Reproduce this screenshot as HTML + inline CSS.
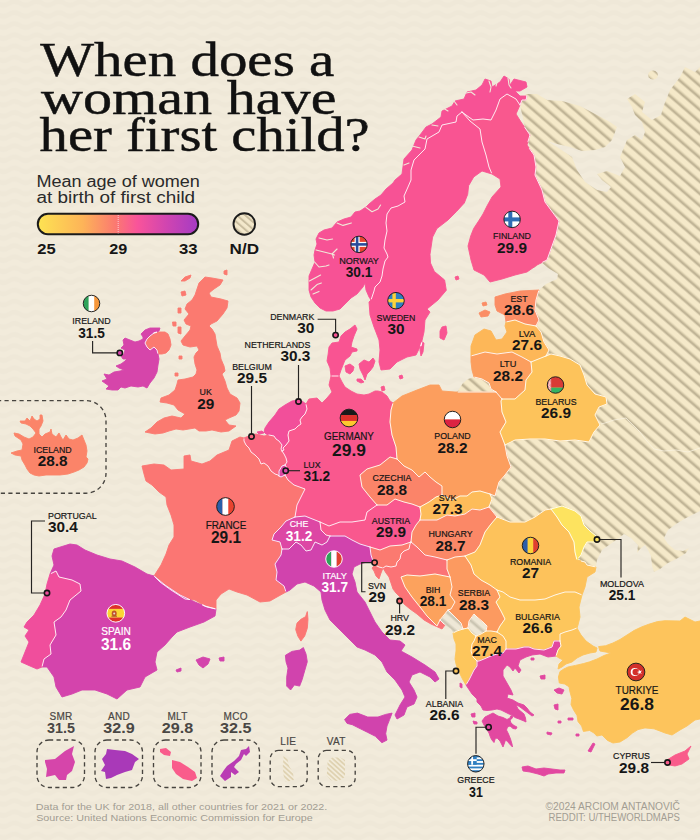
<!DOCTYPE html>
<html><head><meta charset="utf-8"><title>When does a woman have her first child?</title>
<style>
html,body{margin:0;padding:0;background:#efe8d8;}
body{width:700px;height:840px;overflow:hidden;position:relative;font-family:"Liberation Sans",sans-serif;}
svg{position:absolute;left:0;top:0;display:block}
text{font-family:"Liberation Sans",sans-serif;}
.ttl text{font-family:"Liberation Serif",serif;}
.nm{font-size:9.15px;fill:#161616;text-anchor:middle;stroke:#161616;stroke-width:.2px}
.vl{font-size:14.3px;font-weight:700;fill:#161616;text-anchor:middle}
.nm.b{font-size:10.5px}.vl.b{font-size:16.2px}
.nm.m{font-size:10px;letter-spacing:.3px}.vl.m{font-size:15px}
.w{fill:#fff}.nm.w{stroke:#fff}
.g{fill:#4a4744}.nm.g{stroke:#4a4744}
.ld{fill:none;stroke:#262422;stroke-width:1.15}
.dot{stroke:#161616;stroke-width:1.6}
.bx{fill:none;stroke:#47443f;stroke-width:1.35;stroke-dasharray:4.2 3.3}
.ft{font-size:9.6px;fill:#a29d93}
.ttl{font-family:"Liberation Serif",serif;font-size:49px;fill:#111;stroke:#111;stroke-width:.45px}
.sub{font-size:16px;fill:#2a2a2a}
.lg{font-size:14.2px;font-weight:700;fill:#161616}
</style></head><body>
<svg width="700" height="840" viewBox="0 0 700 840">
<defs>
<pattern id="wv" width="22.2" height="11.1" patternUnits="userSpaceOnUse" patternTransform="translate(9.1 2.9)">
<path transform="scale(1.0091 1.0091)" d="M0 3 Q5.5 -.6 11 3 T22 3 V9 Q16.5 12.6 11 9 T0 9Z" fill="#f4eddd" opacity=".6"/>
</pattern>
<linearGradient id="hs" x1="0" y1="0" x2="0" y2="1">
<stop offset="0" stop-color="#f5e9c9"/><stop offset=".5" stop-color="#f5e9c9"/><stop offset=".66" stop-color="#d8ccab"/><stop offset=".8" stop-color="#b6aa8d"/><stop offset=".9" stop-color="#c9bd9e"/><stop offset="1" stop-color="#f5e9c9"/>
</linearGradient>
<pattern id="ht" width="20" height="9.08" patternUnits="userSpaceOnUse" patternTransform="translate(0 0) rotate(40.8)">
<rect width="20" height="9.08" fill="url(#hs)"/>
</pattern>
<linearGradient id="hs2" x1="0" y1="0" x2="0" y2="1">
<stop offset="0" stop-color="#eee7d6"/><stop offset=".45" stop-color="#eee7d6"/><stop offset=".62" stop-color="#d9d3c1"/><stop offset=".78" stop-color="#c4beac"/><stop offset=".9" stop-color="#d9d3c1"/><stop offset="1" stop-color="#eee7d6"/>
</linearGradient>
<pattern id="ht2" width="20" height="9.08" patternUnits="userSpaceOnUse" patternTransform="translate(2 3) rotate(40.8)">
<rect width="20" height="9.08" fill="url(#hs2)"/>
</pattern>
<pattern id="ht4" width="20" height="5.4" patternUnits="userSpaceOnUse" patternTransform="translate(1 1) rotate(40.8)">
<rect width="20" height="5.4" fill="#f3e8cb"/><rect y="1.6" width="20" height="2" fill="#c9bd9f"/>
</pattern>
<pattern id="ht3" width="20" height="3.5" patternUnits="userSpaceOnUse" patternTransform="rotate(42)">
<rect width="20" height="3.5" fill="#f2ebd9"/><rect y="1.1" width="20" height="1.25" fill="#d8c8a2"/>
</pattern>
<linearGradient id="lgd" x1="0" y1="0" x2="1" y2="0">
<stop offset="0" stop-color="#fde352"/><stop offset=".28" stop-color="#fdb458"/><stop offset=".48" stop-color="#fb7a70"/><stop offset=".62" stop-color="#f9549a"/><stop offset=".8" stop-color="#d145b0"/><stop offset="1" stop-color="#a53bc4"/>
</linearGradient>
</defs>
<rect width="700" height="840" fill="#efe8d8"/>
<rect width="700" height="840" fill="url(#wv)"/>

<path d="M530 150 L520 105 L522 100 L526 97 L525 94 L537 94 L547 100 L562 101 L580 106 L597 115 L610 122 L617 127 L612 140 L605 147 L595 150 L582 151 L570 147 L557 144 L547 141 L557 147 L572 157 L577 170 L585 182 L597 190 L607 192 L611 187 L602 180 L597 174 L607 171 L620 176 L625 167 L620 157 L627 140 L635 135 L642 140 L645 132 L642 122 L635 115 L632 107 L627 99 L635 94 L645 102 L642 112 L652 120 L661 115 L664 105 L670 90 L680 77 L685 67 L695 72 L700 67 L700 511 L686 518 L676 524 L668 530 L664 538 L668 544 L675 550 L683 551 L689 548 L686 553 L678 558 L668 563 L660 569 L654 572 L652 566 L651 556 L648 550 L645 545 L640 549 L637 553 L638 545 L631 538 L624 534 L619 538 L609 545 L602 550 L597 560 L596 567 L587 565 L560 545 L485 525 L485 440 L540 400 L535 300 L539 290 L546 284 L557 279 L558 274 L548 268 L541 262 L537 266 L530 270Z" fill="url(#ht)"/>
<path d="M457 392 L463 383 L468 379 L474 377 L482 379 L489 383 L491 389 L496 392Z" fill="url(#ht)"/>
<path d="M440 620 L448 610 L454 616 L461 623 L463 629 L457 631 L453 633 L451 629 L445 625Z" fill="url(#ht2)"/>
<path d="M469 621 L474 614 L477 617 L483 622 L487 626 L486 631 L481 634 L476 636 L472 633 L468 628Z" fill="url(#ht2)"/>
<path d="M658 75 L657.3 77.3 L655.5 79 L653 79.6 L650.5 79 L648.7 77.3 L648 75 L648.7 72.7 L650.5 71 L653 70.4 L655.5 71 L657.3 72.7Z" fill="url(#ht)"/>
<path d="M601 424 L605 423 L614 420 L626 418 L632 424 L640 432 L646 440 L654 449 L664 451 L676 450 L688 452 L700 448" fill="none" stroke="#faf3e2" stroke-width="1" opacity=".75" stroke-linejoin="round"/>
<g stroke-linejoin="round" stroke-width=".9">
<path d="M395 180 L393 183 L386 189 L381 195 L375 199 L369 204 L366 207 L360 211 L355 212 L351 217 L344 219 L337 222 L332 228 L324 230 L319 233 L316 239 L317 244 L315 250 L314 255 L315 262 L312 269 L309 276 L309 283 L309 290 L311 297 L315 303 L320 308 L326 311 L333 311 L340 309 L346 303 L351 298 L357 294 L363 287 L365 283 L366 290 L369 297 L371 300 L374 291 L375 287 L380 282 L382 276 L383 269 L385 261 L388 257 L387 254 L384 248 L385 240 L387 231 L386 223 L387 214 L391 208 L398 206 L405 202 L404 196 L408 187 L411 180 L411 170 L414 160 L425 149 L427 139 L439 132 L442 125 L456 122 L457 116 L462 112 L466 115 L473 120 L483 119 L491 120 L496 110 L500 99 L507 94 L516 99 L520 105 L522 100 L526 100 L527 96 L520 96 L515 91 L520 91 L527 87 L526 82 L514 79 L510 85 L509 79 L504 76 L500 82 L492 87 L491 81 L485 79 L482 85 L476 90 L467 92 L464 99 L455 101 L452 106 L442 111 L441 117 L432 124 L426 127 L420 135 L416 140 L412 150 L404 159 L402 174Z" fill="#f75295" stroke="#f75295"/>
<path d="M462 112 L457 116 L456 122 L442 125 L439 132 L427 139 L425 149 L414 160 L411 170 L411 180 L408 187 L404 196 L405 202 L398 206 L391 208 L387 214 L386 223 L387 231 L385 240 L384 248 L387 254 L388 257 L385 261 L383 269 L382 276 L380 282 L375 287 L374 291 L371 300 L369 302 L370 315 L374 327 L379 340 L380 350 L379 362 L381 370 L390 369 L397 362 L407 357 L416 355 L421 345 L424 332 L425 320 L430 312 L427 309 L438 300 L446.3 290.3 L444.6 280 L434.3 271.4 L430.5 263 L430 254.3 L432.6 237.1 L436.9 228.6 L448 220 L456.6 211.4 L464.3 203 L467.7 194.3 L468.6 185.7 L473.7 177 L482 171 L492 174 L489 167 L486 155 L482 142 L480 129 L470 121Z" fill="#f95492" stroke="#f95492"/>
<path d="M462 112 L470 121 L480 129 L482 142 L486 155 L489 167 L492 174 L500 179 L501 187 L492 197 L487 206 L483 214 L478.6 221 L473.6 228.6 L470.7 236 L468 246 L471 260 L474 270 L484 275 L490 282 L502 279 L515 275 L527 272 L537 265 L547 260 L556 235 L559 221 L545 202 L542 190 L535 175 L536 167 L534 155 L527 145 L530 135 L521 122 L516 114 L520 105 L516 99 L507 94 L500 99 L496 110 L491 120 L483 119 L473 120 L466 115Z" fill="#f9588e" stroke="#f9588e"/>
<path d="M442 327 L446 326 L447 333 L444 340 L440 338 L440 331Z" fill="#f95492" stroke="#f95492"/>
<path d="M422 342 L424 343 L423 352 L421 356 L420 350Z" fill="#f95492" stroke="#f95492"/>
<path d="M355 325 L357 329 L354 336 L352 342 L351 347 L357 349 L357 351 L352 352 L350 356 L345 360 L343 365 L341 370 L339 376 L331 376 L330 368 L327 361 L328 355 L329 347 L332 343 L339 342 L341 336 L345 332 L350 329Z" fill="#f95492" stroke="#f95492"/>
<path d="M345 366 L350 364 L354 367 L353 371 L350 374 L346 372Z" fill="#f95492" stroke="#f95492"/>
<path d="M359 364 L364 360 L369 362 L373 358 L375 361 L373 367 L370 371 L367 374 L365 380 L363 375 L360 369Z" fill="#f95492" stroke="#f95492"/>
<path d="M357 379 L361 379 L364 382 L361 383 L357 381Z" fill="#f95492" stroke="#f95492"/>
<path d="M205 277 L212 278 L223 280 L220 285 L214 289 L209 293 L211 297 L221 299 L228 301 L227 308 L223 314 L217 321 L211 324 L209 326 L212 329 L215 334 L216 340 L217 346 L220 353 L221 359 L224 366 L225 371 L222 374 L225 381 L227 388 L230 394 L237 398 L240 403 L239 411 L236 415 L229 418 L225 420 L229 425 L236 426 L229 431 L221 432 L212 430 L206 431 L199 431 L195 428 L189 429 L183 430 L176 429 L169 431 L163 433 L155 434 L145 432 L151 428 L157 422 L164 418 L172 416 L181 418 L185 414 L178 410 L174 405 L167 403 L160 402 L161 398 L169 395 L175 390 L177 384 L178 380 L185 379 L193 377 L196 374 L197 370 L195 364 L194 357 L196 353 L199 350 L197 346 L190 347 L183 345 L181 341 L185 336 L190 330 L191 326 L186 324 L184 320 L189 314 L185 309 L187 304 L192 300 L195 295 L197 289 L199 283Z" fill="#fb7a70" stroke="#fb7a70"/>
<path d="M147 339 L150 336 L154 333 L159 332 L165 332 L168 334 L170 339 L171 345 L169 350 L166 353 L162 354 L158 354 L157 350 L154 347 L150 350 L147 347 L145 343Z" fill="#fb7a70" stroke="#fb7a70"/>
<path d="M181 281 L185 277 L191 275 L190 278 L185 281Z" fill="#fb7a70" stroke="#fb7a70"/>
<path d="M181 292 L185 291 L186 295 L182 296Z" fill="#fb7a70" stroke="#fb7a70"/>
<path d="M178 308 L181 308 L181 313 L178 313Z" fill="#fb7a70" stroke="#fb7a70"/>
<path d="M179 356 L182 356 L182 359 L179 359Z" fill="#fb7a70" stroke="#fb7a70"/>
<path d="M224 271 L227 270 L227 275 L224 274Z" fill="#fb7a70" stroke="#fb7a70"/>
<path d="M141 334 L145 330 L150 328 L156 328 L160 328 L159 331 L154 333 L150 336 L147 339 L145 343 L147 347 L150 350 L154 347 L157 350 L158 354 L159 359 L158 365 L157 372 L154 378 L150 383 L147 388 L143 386 L138 387 L131 386 L125 388 L121 387 L118 390 L112 390 L106 389 L109 386 L102 381 L107 379 L104 374 L109 375 L114 372 L120 371 L124 370 L119 368 L116 366 L121 364 L125 361 L127 359 L123 359 L121 356 L124 354 L125 350 L121 348 L124 345 L123 340 L125 338 L130 340 L135 342 L139 341 L143 339 L143 337Z" fill="#d645aa" stroke="#d645aa"/>
<path d="M11 453 L17 451 L22 450 L23 444 L21 440 L15 436 L14 433 L19 434 L24 437 L29 439 L33 437 L36 433 L33 429 L30 426 L26 424 L21 423 L20 421 L25 421 L27 418 L30 421 L32 416 L34 419 L37 421 L40 419 L40 415 L42 415 L43 421 L41 426 L39 429 L39 434 L42 437 L45 434 L50 432 L51 429 L52 434 L56 437 L59 433 L61 437 L63 440 L66 435 L69 439 L73 440 L78 438 L82 435 L84 440 L86 445 L87 451 L86 457 L88 459 L87 463 L84 467 L79 470 L74 472 L68 474 L60 475 L53 475 L46 475 L39 476 L34 475 L30 473 L27 469 L25 465 L22 460 L21 456 L15 455Z" fill="#fb8469" stroke="#fb8469"/>
<path d="M244 438 L244 441 L246 445 L249 448 L251 452 L255 455 L259 459 L261 464 L264 463 L268 466 L271 471 L275 474 L278 475 L279 476 L281 477 L285 475 L288 480 L294 485 L305 489 L302 495 L297 505 L295 517 L286 521 L281 527 L274 534 L272 540 L280 542 L282 549 L281 555 L275 564 L277 572 L276 580 L284 586 L286 592 L277 597 L270 601 L260 602 L247 595 L237 592 L229 589 L221 594 L216 600 L216 609 L205 606 L195 600 L185 599 L171 590 L160 582 L154 576 L161 565 L166 554 L169 545 L174 537 L174 525 L171 515 L167 505 L166 497 L159 492 L152 485 L146 481 L144 474 L142 466 L154 464 L164 465 L171 470 L184 469 L184 456 L190 455 L191 461 L202 464 L210 461 L217 455 L229 450 L232 441 L240 437Z" fill="#fb7673" stroke="#fb7673"/>
<path d="M307.3 611.6 L308 619.3 L307.3 628.3 L304.7 636 L300.9 641.1 L297.8 636 L295.7 629.6 L297 623.1 L300.9 619.3 L305.5 616.7Z" fill="#fb7673" stroke="#fb7673"/>
<path d="M244 438 L251 435 L256 434 L264 436 L269 435 L274 436 L276 439 L279 441 L282 445 L281 449 L282 451 L284 454 L286 458 L287 462 L285 465 L282 466 L279 471 L279 476 L278 475 L275 474 L271 471 L268 466 L264 463 L261 464 L259 459 L255 455 L251 452 L249 448 L246 445 L244 441Z" fill="#fa6880" stroke="#fa6880"/>
<path d="M282 466 L285 465 L287 468 L288 472 L285 475 L281 477 L279 476 L279 471Z" fill="#dd47a4" stroke="#dd47a4"/>
<path d="M265 428 L269 422 L275 415 L279 409 L285 405 L292 401 L298 400 L302 401 L306 404 L307 409 L305 414 L302 417 L300 420 L301 424 L298 426 L295 429 L289 431 L288 435 L289 441 L286 445 L283 448 L284 450 L282 451 L281 449 L282 445 L279 441 L276 439 L274 436 L269 435 L266 434 L264 432Z" fill="#f24f9a" stroke="#f24f9a"/>
<path d="M306 404 L307 409 L305 414 L302 417 L300 420 L301 424 L298 426 L295 429 L289 431 L288 435 L289 441 L286 445 L283 448 L284 450 L282 451 L284 454 L286 458 L287 462 L285 465 L287 468 L288 472 L285 475 L288 480 L294 485 L305 489 L302 495 L297 505 L295 517 L305 516 L315 520 L320 522 L329 526 L340 522 L352 522 L365 520 L367 512 L377 505 L370 497 L362 487 L360 475 L367 469 L380 465 L390 457 L397 459 L396 447 L392 435 L390 422 L391 410 L393 403 L390 401 L387 396 L382 392 L378 391 L375 391 L369 394 L364 395 L357 394 L351 391 L345 387 L342 382 L339 376 L331 376 L329 385 L332 392 L327 398 L322 403 L317 398 L309 399Z" fill="#f9588e" stroke="#f9588e"/>
<path d="M295 517 L305 516 L315 520 L320 522 L321 530 L326 535 L330 536 L327 542 L322 545 L315 542 L311 550 L306 551 L301 545 L296 542 L289 549 L282 549 L280 542 L272 540 L274 534 L281 527 L286 521Z" fill="#dd47a4" stroke="#dd47a4"/>
<path d="M320 522 L329 526 L340 522 L352 522 L365 520 L367 512 L377 505 L387 505 L395 499 L404 502 L412 504 L420 507 L421 514 L420 520 L416 525 L412 532 L411 542 L402 545 L390 546 L380 550 L370 547 L360 544 L352 540 L345 536 L335 536 L330 536 L326 535 L321 530Z" fill="#f9588e" stroke="#f9588e"/>
<path d="M360 475 L367 469 L380 465 L390 457 L397 459 L404 466 L412 470 L419 477 L425 472 L430 477 L436 482 L442 486 L442 495 L436 497 L429 502 L420 507 L412 504 L404 502 L395 499 L387 505 L377 505 L370 497 L362 487Z" fill="#fb8469" stroke="#fb8469"/>
<path d="M393 403 L402 396 L417 390 L430 385 L439 385 L442 391 L455 392 L490 392 L496 392 L502 399 L501 401 L502 412 L506 422 L500 432 L505 445 L507 456 L511 467 L505 475 L499 482 L495 496 L490 494 L480 491 L472 492 L467 496 L460 496 L452 500 L442 495 L442 486 L436 482 L430 477 L425 472 L419 477 L412 470 L404 466 L397 459 L396 447 L392 435 L390 422 L391 410Z" fill="#fc9e5e" stroke="#fc9e5e"/>
<path d="M442 495 L452 500 L460 496 L467 496 L472 492 L480 491 L490 494 L492 499 L489 507 L480 510 L472 509 L465 514 L455 516 L447 515 L437 520 L427 520 L420 520 L421 514 L420 507 L429 502 L436 497Z" fill="#fdbc5a" stroke="#fdbc5a"/>
<path d="M420 520 L427 520 L437 520 L447 515 L455 516 L465 514 L472 509 L480 510 L489 507 L497 517 L491 524 L485 532 L480 545 L475 552 L465 556 L455 557 L447 560 L435 557 L425 555 L417 547 L411 542 L412 532 L416 525Z" fill="#fb8867" stroke="#fb8867"/>
<path d="M370 547 L380 550 L390 546 L402 545 L411 542 L410 544 L409 549 L404 551 L401 554 L400 559 L397 562 L396 566 L391 567 L386 566 L383 568 L379 567 L375 565 L373 561 L371 555Z" fill="#fb7a70" stroke="#fb7a70"/>
<path d="M383 568 L386 566 L391 567 L396 566 L397 562 L400 559 L401 554 L404 551 L409 549 L410 544 L411 542 L417 547 L425 555 L435 557 L447 560 L447 569 L450 577 L445 576 L435 574 L420 576 L407 575 L401 577 L405 587 L412 597 L420 607 L427 616 L437 626 L440 620 L445 625 L442 629 L431 624 L424 620 L417 614 L410 609 L404 604 L400 597 L396 593 L393 589 L391 583 L389 577 L386 573Z" fill="#fb7376" stroke="#fb7376"/>
<path d="M401 577 L407 575 L420 576 L435 574 L445 576 L450 577 L452 587 L450 595 L455 602 L451 609 L448 610 L440 620 L437 626 L427 616 L420 607 L412 597 L405 587Z" fill="#fca25d" stroke="#fca25d"/>
<path d="M447 560 L455 557 L465 556 L471 565 L474 574 L481 580 L490 585 L497 590 L500 597 L496 602 L501 611 L505 619 L500 626 L497 632 L491 631 L486 631 L487 626 L483 622 L477 617 L474 614 L469 621 L468 628 L463 629 L461 623 L454 616 L448 610 L451 609 L455 602 L450 595 L452 587 L450 577 L447 569Z" fill="#fc9a60" stroke="#fc9a60"/>
<path d="M453 633 L457 631 L463 629 L468 628 L472 633 L476 636 L474 641 L472 644 L471 651 L473 657 L477 661 L477 666 L474 670 L471 676 L469 680 L466 685 L463 680 L461 676 L458 670 L456 664 L455 659 L456 651 L456 644 L454 639Z" fill="#fdc65c" stroke="#fdc65c"/>
<path d="M472 644 L474 641 L476 636 L481 634 L486 631 L491 631 L497 632 L503 636 L506 641 L506 649 L503 653 L497 654 L491 656 L484 659 L479 661 L477 661 L473 657 L471 651Z" fill="#fdbb59" stroke="#fdbb59"/>
<path d="M497 590 L503 592 L510 597 L520 600 L535 600 L545 599 L555 595 L565 592 L575 592 L582 595 L579 607 L580 617 L578 625 L577 628 L572 630 L565 632 L560 634 L560 641 L554 641 L552 647 L544 650 L534 649 L529 647 L524 647 L516 649 L506 649 L506 641 L503 636 L497 632 L500 626 L505 619 L501 611 L496 602 L500 597Z" fill="#fdc65c" stroke="#fdc65c"/>
<path d="M497 517 L510 522 L525 522 L535 517 L545 510 L551 509 L557 517 L562 525 L569 532 L574 542 L575 552 L577 560 L585 562 L587 565 L596 567 L595 572 L587 577 L585 587 L582 595 L575 592 L565 592 L555 595 L545 599 L535 600 L520 600 L510 597 L503 592 L497 590 L490 585 L481 580 L474 574 L471 565 L465 556 L475 552 L480 545 L485 532 L491 524Z" fill="#fdc25b" stroke="#fdc25b"/>
<path d="M551 509 L562 506 L575 511 L581 516 L584 525 L590 531 L596 536 L595 542 L587 542 L584 547 L581 555 L577 560 L575 552 L574 542 L569 532 L562 525 L557 517Z" fill="#fde35f" stroke="#fde35f"/>
<path d="M495 297 L505 294 L520 291 L539 290 L536 300 L535 310 L539 320 L536 326 L525 324 L515 320 L506 322 L505 315 L497 311 L495 305Z" fill="#fb8d65" stroke="#fb8d65"/>
<path d="M479 313 L485 310 L490 312 L488 316 L481 317Z" fill="#fb8d65" stroke="#fb8d65"/>
<path d="M482 303 L486 302 L487 305 L483 306Z" fill="#fb8d65" stroke="#fb8d65"/>
<path d="M506 322 L515 320 L525 324 L536 326 L541 332 L544 342 L549 350 L546 356 L536 360 L531 362 L522 357 L512 352 L497 354 L485 352 L471 356 L471 346 L475 335 L484 329 L491 331 L496 340 L502 339 L507 332 L505 326Z" fill="#fdb758" stroke="#fdb758"/>
<path d="M471 356 L485 352 L497 354 L512 352 L522 357 L531 362 L532 372 L526 380 L525 390 L515 399 L502 399 L496 392 L491 389 L489 383 L482 379 L474 377 L472 370 L471 362Z" fill="#fc9e5e" stroke="#fc9e5e"/>
<path d="M531 362 L536 360 L546 356 L551 354 L560 356 L570 359 L580 365 L584 375 L587 385 L595 394 L606 397 L607 404 L599 407 L595 415 L600 425 L594 432 L589 442 L575 440 L560 441 L545 439 L530 439 L515 440 L505 445 L500 432 L506 422 L502 412 L501 401 L502 399 L515 399 L525 390 L526 380 L532 372Z" fill="#fdc35b" stroke="#fdc35b"/>
<path d="M54 549 L70 544 L77 545 L85 550 L97 555 L110 559 L122 561 L135 567 L147 574 L154 576 L165 585 L180 595 L195 602 L207 607 L216 609 L215 616 L204 622 L190 627 L177 632 L172 637 L165 645 L157 652 L155 662 L157 670 L145 677 L140 687 L127 690 L117 699 L107 694 L95 690 L82 690 L72 694 L62 697 L56 687 L54 677 L47 667 L42 667 L44 659 L51 654 L50 645 L56 635 L54 622 L61 617 L66 610 L70 600 L81 591 L80 584 L72 580 L59 577 L56 571 L50 574 L54 565 L52 556Z" fill="#d444ac" stroke="#d444ac"/>
<path d="M196 660 L203 657 L210 659 L208 664 L203 668 L199 665Z" fill="#d444ac" stroke="#d444ac"/>
<path d="M219 658 L224 657 L224 661 L220 661Z" fill="#d444ac" stroke="#d444ac"/>
<path d="M176 670 L181 668 L181 671 L177 672Z" fill="#d444ac" stroke="#d444ac"/>
<path d="M50 574 L56 571 L59 577 L72 580 L80 584 L81 591 L70 600 L66 610 L61 617 L54 622 L56 635 L50 645 L51 654 L44 659 L42 667 L37 669 L30 666 L21 662 L25 652 L29 642 L25 636 L29 630 L24 627 L27 622 L34 615 L40 605 L45 594 L47 584Z" fill="#f04e9c" stroke="#f04e9c"/>
<path d="M286 592 L284 586 L276 580 L277 572 L275 564 L281 555 L282 549 L289 549 L296 542 L301 545 L306 551 L311 550 L315 542 L322 545 L327 542 L330 536 L335 536 L345 536 L352 540 L360 544 L370 547 L371 555 L373 561 L374 564 L371 562 L367 562 L360 564 L354 567 L352 574 L355 582 L357 592 L365 602 L370 612 L375 622 L382 632 L390 640 L400 641 L405 645 L401 651 L412 657 L425 665 L435 672 L439 679 L435 682 L430 677 L420 672 L412 675 L409 682 L414 690 L417 697 L414 704 L407 707 L404 715 L397 719 L395 715 L400 705 L405 697 L402 690 L395 680 L387 672 L382 662 L375 655 L365 650 L357 647 L347 637 L337 627 L330 620 L325 610 L322 600 L321 592 L314 586 L305 582 L297 584 L290 590Z" fill="#d143ad" stroke="#d143ad"/>
<path d="M344.6 719.6 L349.7 714.4 L357.4 713.1 L367.7 717 L378 717 L385.7 714.4 L392.1 713.1 L389.6 719.6 L387 726 L385.7 733.7 L387 740.1 L381.9 742.7 L375.4 736.3 L367.7 732.4 L360 728.6 L352.3 724.7 L347.1 723.4Z" fill="#d143ad" stroke="#d143ad"/>
<path d="M285.4 655.3 L291.9 651.4 L299.6 650.1 L303.4 647.6 L306 654 L307.3 661.7 L304.7 670.7 L302.1 679.7 L299.6 686.1 L294.4 684.9 L290.6 690 L286.7 686.1 L286.7 677.1 L288 668.1 L286 661.7Z" fill="#d143ad" stroke="#d143ad"/>
<path d="M466 685 L469 680 L471 676 L474 670 L477 666 L477 661 L479 661 L484 659 L491 656 L497 654 L503 653 L506 649 L516 649 L524 647 L529 647 L534 649 L544 650 L552 647 L554 641 L560 641 L561 646 L558 650 L556 656 L548 657 L540 654 L532 655 L526 657 L520 660 L518 666 L521 670 L519 673 L515 668 L513 671 L510 667 L507 665 L503 670 L503 676 L507 683 L511 690 L513 695 L508 694 L507 698 L513 700 L518 703 L524 705 L527 708 L530 712 L534 715 L532 716 L528 713 L524 710 L520 707 L516 704.5 L518 709 L521 711.5 L524 714 L525.5 718 L526 722 L524 721 L519 719 L515 717.5 L512 715 L509 714 L505 712 L501 710 L497 709 L492 710 L487 710.5 L483 710 L481 706 L477 702 L477 699 L472 694Z" fill="#e248a0" stroke="#e248a0"/>
<path d="M522 767 L528 766 L536 769 L544 768 L552 769 L560 770 L565 770 L564 773 L556 773 L548 774 L544 776 L538 774 L530 772 L523 771Z" fill="#e248a0" stroke="#e248a0"/>
<path d="M588 751 L593 743 L595 744 L591 752Z" fill="#e248a0" stroke="#e248a0"/>
<path d="M554 690 L559 688 L564 690 L562 694 L557 693Z" fill="#e248a0" stroke="#e248a0"/>
<path d="M554 705 L558 704 L558 710 L555 709Z" fill="#e248a0" stroke="#e248a0"/>
<path d="M560 641 L560 634 L565 632 L572 630 L577 628 L581 635 L586 641 L593 646 L597 648 L596 652 L590 653 L583 655 L577 658 L572 662 L566 664 L562 667 L558 669 L559 664 L563 660 L559 658 L556 656 L558 650 L561 646Z" fill="#fdc45c" stroke="#fdc45c"/>
<path d="M598.6 646.6 L605.7 645.7 L612.9 643 L620 639.5 L627 635 L634 630.5 L641.4 627 L648.6 624.3 L657.5 621.6 L665 620.7 L680 621 L685 617 L695 622 L700 621 L700 719 L695 720 L687 726 L680 730 L672 735 L665 733 L661 731.4 L654 728.8 L645 727.9 L638 729.6 L632.5 733 L627 737.7 L620 742 L613 743 L607.5 740.4 L602 735 L596.8 736 L594 733 L589.6 730.5 L583.4 731.4 L581.6 726 L578 721.6 L577 715.4 L573.6 710 L571 704.6 L571.8 698.4 L570 692 L569 686.8 L564.6 684 L559.3 683 L558.4 677 L560 671.6 L563.8 669 L568 667 L575.4 665.4 L583.4 663.6 L589.6 661.8 L597 659 L604 655.5 L611 653 L600 651Z" fill="#fdc45c" stroke="#fdc45c"/>
<path d="M667 760 L675 755 L685 751 L691 746 L687 754 L689 759 L682 764 L675 766 L669 765Z" fill="#f95c8b" stroke="#f95c8b"/>
<path d="M540 676 L545 675 L545 679 L541 679Z" fill="#e248a0" stroke="#e248a0"/>
<path d="M568 718 L573 718 L573 720 L568 720Z" fill="#e248a0" stroke="#e248a0"/>
<path d="M558 721 L561 721 L561 723 L558 723Z" fill="#e248a0" stroke="#e248a0"/>
<path d="M547 732 L552 733 L551 735 L547 734Z" fill="#e248a0" stroke="#e248a0"/>
<path d="M576 734 L579 734 L579 736 L576 736Z" fill="#e248a0" stroke="#e248a0"/>
<path d="M460 683 L462 684 L462 688 L460 687Z" fill="#e248a0" stroke="#e248a0"/>
<path d="M471 714 L475 713 L475 717 L472 717Z" fill="#e248a0" stroke="#e248a0"/>
<path d="M473 721 L477 722 L477 724 L474 724Z" fill="#e248a0" stroke="#e248a0"/>
<path d="M531 658 L534 658 L534 660 L531 660Z" fill="#e248a0" stroke="#e248a0"/>
<path d="M399 376 L402 375 L403 378 L400 379Z" fill="#f95492" stroke="#f95492"/>
<path d="M381 387 L384 386 L385 390 L382 391Z" fill="#f9588e" stroke="#f9588e"/>
<path d="M172.5 322 L176 322 L176 326 L173 326Z" fill="#fb7a70" stroke="#fb7a70"/>
<path d="M178 327 L181 327 L181 334 L178 333Z" fill="#fb7a70" stroke="#fb7a70"/>
<path d="M175 373 L178 373 L178 376 L175 376Z" fill="#fb7a70" stroke="#fb7a70"/>
<path d="M375 565 L379 567 L383 568 L381 573 L379 579 L376 576 L374 571 L372 568Z" fill="#fb7376" stroke="#fb7376"/>
<path d="M455 277 L458 276 L459 279 L456 280Z" fill="#f9588e" stroke="#f9588e"/>
<path d="M257 432 L262 431 L264 433 L259 434Z" fill="#f24f9a" stroke="#f24f9a"/>
<path d="M482 721 L485 717 L490 714.5 L493 713 L498 716 L503 717.5 L507 719.5 L510 718 L511 715.5 L513 716.5 L511.5 719 L510 720 L511 723 L514 725.5 L517 727 L516 729 L513 728.5 L510 726 L507.5 727 L506.5 730 L508.5 734 L510.5 739 L512 744 L512.5 747 L510 744.5 L507.5 741.5 L505.5 740 L504.5 743 L503 747 L501.5 744 L500 741 L497.5 738.5 L495.5 738 L494 742.5 L491.5 739.5 L490 736 L489 733 L486.5 729 L484 725Z" fill="#e248a0" stroke="#e248a0"/>
</g>
<g fill="none" stroke="#fff" stroke-width=".95" stroke-linejoin="round" stroke-linecap="round" opacity=".92">
<path d="M42.2 666.1 L44 659 L51 654 L50 645 L56 635 L54 622 L61 617 L66 610 L70 600 L81 591 L80 584 L72 580 L59 577 L56 571 L51.3 573.4M157.8 353.3 L157 350 L154 347 L150 350 L147 347 L145 343 L147 339 L150 336 L154 333M156.4 332 L154 333M154 333 L156.6 332.5M189.5 599.5 L185 599 L171 590 L160 582 L154.6 576.6M154.7 576.5 L165 585 L180 595 L189.5 599.5M202.6 605.2 L207 607 L215.1 608.8M215.1 608.8 L205 606 L202.8 604.7M244 438.9 L244 441 L246 445 L249 448 L251 452 L255 455 L259 459 L261 464 L264 463 L268 466 L271 471 L275 474 L278 475 L279 476M269 435 L274 436 L276 439 L279 441 L282 445 L281 449 L282 451M279 476 L281 477 L285 475M285 465 L282 466 L279 471 L279 476M282 451 L284 454 L286 458 L287 462 L285 465M306.1 404.7 L307 409 L305 414 L302 417 L300 420 L301 424 L298 426 L295 429 L289 431 L288 435 L289 441 L286 445 L283 448 L284 450 L282 451M330 536 L327 542 L322 545 L315 542 L311 550 L306 551 L301 545 L296 542 L289 549 L282 549M282 549 L281 555 L275 564 L277 572 L276 580 L284 586 L285.7 591.1M295 517 L286 521 L281 527 L274 534 L272 540 L280 542 L282 549M285 465 L287 468 L288 472 L285 475M285 475 L288 480 L294 485 L305 489 L302 495 L297 505 L295 517M295 517 L305 516 L315 520 L320 522M320 522 L329 526 L340 522 L352 522 L365 520 L367 512 L377 505M320 522 L321 530 L326 535 L330 536M370 547 L360 544 L352 540 L345 536 L335 536 L330 536M338.1 376 L331.9 376M411 542 L402 545 L390 546 L380 550 L370 547M373 561 L371 555 L370 547M371.4 298.9 L374 291 L375 287 L380 282 L382 276 L383 269 L385 261 L388 257 L387 254 L384 248 L385 240 L387 231 L386 223 L387 214 L391 208 L398 206 L405 202 L404 196 L408 187 L411 180 L411 170 L414 160 L425 149 L427 139 L439 132 L442 125 L456 122 L457 116 L462 112M382.3 567.8 L379 567 L375.7 565.4M377 505 L387 505 L395 499 L404 502 L412 504 L420 507M377 505 L370 497 L362 487 L360 475 L367 469 L380 465 L390 457 L397 459M411 542 L410 544 L409 549 L404 551 L401 554 L400 559 L397 562 L396 566 L391 567 L386 566 L383.5 567.6M397 459 L396 447 L392 435 L390 422 L391 410 L392.8 403.8M397 459 L404 466 L412 470 L419 477 L425 472 L430 477 L436 482 L442 486 L442 495M447 560 L435 557 L425 555 L417 547 L411 542M420 520 L416 525 L412 532 L411 542M420 507 L421 514 L420 520M442 495 L436 497 L429 502 L420 507M489 507 L480 510 L472 509 L465 514 L455 516 L447 515 L437 520 L427 520 L420 520M420.6 345.8 L421 345 L421.5 342.8M421 345.9 L421.8 342.9M450 577 L445 576 L435 574 L420 576 L407 575 L401 577 L405 587 L412 597 L420 607 L427 616 L436.5 625.5M437.1 625.8 L440 620M440 620 L444.4 624.4M448 610 L440 620M490 494 L480 491 L472 492 L467 496 L460 496 L452 500 L442 495M447 560 L447 569 L450 577M465 556 L455 557 L447 560M463 629 L461 623 L454 616 L448 610M450 577 L452 587 L450 595 L455 602 L451 609 L448 610M463 629 L457 631 L453.8 632.6M458.1 392 L490 392 L496 392M462 112 L466 115 L473 120 L483 119 L491 120 L496 110 L500 99 L507 94 L516 99 L519.9 104.9M491.5 172.9 L489 167 L486 155 L482 142 L480 129 L470 121 L462 112M468 628 L463 629M465 556 L471 565 L474 574 L481 580 L490 585 L497 590M497 517 L491 524 L485 532 L480 545 L475 552 L465 556M477 661 L477 666 L474 670 L471 676 L469 680 L466.5 684.1M476 636 L472 633 L468 628M486 631 L487 626 L483 622 L477 617 L474 614 L469 621 L468 628M531 362 L522 357 L512 352 L497 354 L485 352 L471.9 355.7M496 392 L491 389 L489 383 L482 379 L474.8 377.2M476 636 L474 641 L472 644 L471 651 L473 657 L477 661M486 631 L481 634 L476 636M506 649 L503 653 L497 654 L491 656 L484 659 L479 661 L477 661M497 632 L491 631 L486 631M489 507 L497 517M490 494 L492 499 L489 507M505 445 L507 456 L511 467 L505 475 L499 482 L495 496 L490 494M496 392 L502 399M497 517 L510 522 L525 522 L535 517 L545 510 L551 509M497 590 L503 592 L510 597 L520 600 L535 600 L545 599 L555 595 L565 592 L575 592 L581.2 594.6M497 590 L500 597 L496 602 L501 611 L505 619 L500 626 L497 632M497 632 L503 636 L506 641 L506 649M531 362 L532 372 L526 380 L525 390 L515 399 L502 399M502 399 L501 401 L502 412 L506 422 L500 432 L505 445M546 356 L551 354 L560 356 L570 359 L580 365 L584 375 L587 385 L595 394 L606 397 L607 404 L599 407 L595 415 L600 425 L594 432 L589 442 L575 440 L560 441 L545 439 L530 439 L515 440 L505 445M560 641 L554 641 L552 647 L544 650 L534 649 L529 647 L524 647 L516 649 L506 649M536 326 L525 324 L515 320 L506.9 321.8M520.1 104.9 L522 100 L526 100 L527 96 L526.4 96M528 141.5 L530 135 L524.8 127.4M542.6 262.2 L547 260 L556 235 L559 221 L545 202 L542 190 L535 175 L536 167 L534 155 L529.4 148.5M546 356 L536 360 L531 362M536 326 L541 332 L544 342 L549 350 L546 356M538.7 290.9 L536 300 L535 310 L539 320 L536 326M551 509 L557 517 L562 525 L569 532 L574 542 L575 552 L576.7 558.9M551 509 L562 506 L575 511 L581 516 L584 525 L590 531 L596 536 L595 542 L587 542 L584 547 L581 555 L578.7 557.8M560 641 L561 646 L558 650 L556.3 655.2M576.2 628.3 L572 630 L565 632 L560 634 L560 641M581.4 561.1 L585 562 L587 565 L595.1 566.8"/>
</g>
<g fill="none" stroke="#f0e9d9" stroke-width="1.1" stroke-linecap="round" stroke-linejoin="round">
<path d="M404 165 L409 163"/>
<path d="M412 146 L420 148"/>
<path d="M419 137 L425 139 L426 136"/>
<path d="M432 125 L438 126"/>
<path d="M443 108 L448 111"/>
<path d="M454 101 L457 105"/>
<path d="M466 93 L471 92 L475 95"/>
<path d="M489 81 L491 87 L490 92"/>
<path d="M498 79 L496 86"/>
<path d="M508 78 L509 85 L511 88"/>
<path d="M316 250 L324 252 L332 254 L334.5 255"/>
<path d="M332 254 L337 249"/>
<path d="M332.5 254 L333.5 258"/>
<path d="M314.6 262 L319 267 L326 266 L329 265"/>
<path d="M309.4 281 L315 278 L320.6 275"/>
<path d="M311 290 L317 284.6 L321.4 283"/>
<path d="M313 294 L319 291.4"/>
<path d="M319 238 L327 240 L332.6 239"/>
<path d="M337 223 L343 225.4 L351.4 223"/>
<path d="M366 207.4 L372 211.7 L378 209 L380.6 205"/>
</g>
<path class="bx" d="M-3 400.6 H86 A20 20 0 0 1 106 420.6 V473.2 A20 20 0 0 1 86 493.2 H-3"/>
<rect class="bx" x="37" y="740" width="47.5" height="47.5" rx="12"/>
<rect class="bx" x="95" y="740" width="47.5" height="47.5" rx="12"/>
<rect class="bx" x="153.5" y="740" width="47.5" height="47.5" rx="12"/>
<rect class="bx" x="212" y="740" width="47.5" height="47.5" rx="12"/>
<rect class="bx" x="270.2" y="750.4" width="37" height="36.2" rx="8.5"/>
<rect class="bx" x="318.2" y="750.4" width="37" height="36.2" rx="8.5"/>
<path d="M45 760 L55 759 L65 751 L74 746 L72 754 L75 762 L72 771 L67 775 L66 780 L59 780 L55 775 L46 777 L47 769 L45 762Z" fill="#d645aa"/>
<path d="M107 749 L115 750 L125 751 L132 754 L139 759 L135 762 L132 770 L125 772 L117 775 L111 778 L106 779 L105 772 L101 771 L105 765 L102 759 L106 754Z" fill="#a939b8"/>
<path d="M160 749 L166 748 L171 752 L170 756 L164 755 L160 752Z" fill="#f95c8b"/>
<path d="M172 760 L180 762 L188 767 L195 772 L197 778 L192 781 L183 779 L176 774 L172 768Z" fill="#f95c8b"/>
<path d="M249 746 L250 752 L246 756 L244 754 L241 760 L236 764 L234 767 L239 772 L235 775 L231 772 L231 777 L225 781 L220 776 L224 770 L227 766 L234 761 L239 756 L241 750 L246 749Z" fill="#ba3cb4"/>
<path d="M283.6 756 L287.5 759 L289 766 L293 772.5 L293.8 780 L286 782 L283.6 775.6 L282.8 766Z" fill="url(#ht3)"/>
<path d="M327.6 761.4 L332.3 757.5 L340.2 757.5 L345 760 L345 777 L338.6 781 L330.8 780.3 L326.8 775.6Z" fill="url(#ht3)"/>
<path class="ld" d="M92.6 341 L92.6 352.9 L117.3 352.9"/>
<circle class="dot" cx="119.8" cy="352.9" r="2.65" fill="#d645aa"/>
<path class="ld" d="M317.6 319.2 L335.6 319.2 L335.6 332.6"/>
<circle class="dot" cx="335.6" cy="335.1" r="2.65" fill="#f95492"/>
<path class="ld" d="M298.5 365 L298.5 399"/>
<circle class="dot" cx="298.5" cy="401.5" r="2.65" fill="#f24f9a"/>
<path class="ld" d="M251.5 386 L251.5 434"/>
<circle class="dot" cx="251.5" cy="436.5" r="2.65" fill="#fa6880"/>
<path class="ld" d="M300 470.7 L288.3 470.7"/>
<circle class="dot" cx="285.7" cy="470.7" r="2.65" fill="#dd47a4"/>
<path class="ld" d="M45 521 L31.5 521 L31.5 593 L44.5 593"/>
<circle class="dot" cx="47" cy="593" r="2.65" fill="#f04e9c"/>
<path class="ld" d="M365.5 591.7 L361.7 591.7 L361.7 562.6 L372 562.6"/>
<circle class="dot" cx="374.6" cy="562.6" r="2.65" fill="#fb7a70"/>
<path class="ld" d="M399.6 613.6 L399.6 603.5"/>
<circle class="dot" cx="399.6" cy="601" r="2.65" fill="#fb7376"/>
<path class="ld" d="M445.8 699 L445.8 671 L453.5 671"/>
<circle class="dot" cx="456" cy="671" r="2.65" fill="#fdc65c"/>
<path class="ld" d="M621 577.5 L621 539.5 L599.5 539.5"/>
<circle class="dot" cx="597" cy="539.5" r="2.65" fill="#fde35f"/>
<path class="ld" d="M476 753.8 L476 727.2 L486 727.2"/>
<circle class="dot" cx="488.6" cy="727.2" r="2.65" fill="#e248a0"/>
<path class="ld" d="M651 762.5 L665 762.5"/>
<circle class="dot" cx="667.5" cy="762.5" r="2.65" fill="#f95c8b"/>
<clipPath id="cNOR"><circle cx="359" cy="244.4" r="8.25"/></clipPath><g clip-path="url(#cNOR)"><rect x="350.75" y="236.15" width="16.5" height="16.5" fill="#e8442f"/><rect x="354.6" y="236.15" width="5" height="16.5" fill="#fff"/><rect x="350.75" y="241.9" width="16.5" height="5" fill="#fff"/><rect x="355.8" y="236.15" width="2.6" height="16.5" fill="#2b4b9b"/><rect x="350.75" y="243.1" width="16.5" height="2.6" fill="#2b4b9b"/></g><circle cx="359" cy="244.4" r="8.25" fill="none" stroke="#1b1b1b" stroke-width=".95"/>
<clipPath id="cSWE"><circle cx="396" cy="300.7" r="8.25"/></clipPath><g clip-path="url(#cSWE)"><rect x="387.75" y="292.45" width="16.5" height="16.5" fill="#2f7fc1"/><rect x="392.4" y="292.45" width="3.4" height="16.5" fill="#fdd23a"/><rect x="387.75" y="299" width="16.5" height="3.4" fill="#fdd23a"/></g><circle cx="396" cy="300.7" r="8.25" fill="none" stroke="#1b1b1b" stroke-width=".95"/>
<clipPath id="cFIN"><circle cx="512.1" cy="219.4" r="8.25"/></clipPath><g clip-path="url(#cFIN)"><rect x="503.85" y="211.15" width="16.5" height="16.5" fill="#fff"/><rect x="508.3" y="211.15" width="4" height="16.5" fill="#2f6db5"/><rect x="503.85" y="217.4" width="16.5" height="4" fill="#2f6db5"/></g><circle cx="512.1" cy="219.4" r="8.25" fill="none" stroke="#1b1b1b" stroke-width=".95"/>
<clipPath id="cIRL"><circle cx="91.5" cy="303.5" r="8.25"/></clipPath><g clip-path="url(#cIRL)"><rect x="83.25" y="295.25" width="5.5" height="16.5" fill="#2fa35a"/><rect x="88.75" y="295.25" width="5.5" height="16.5" fill="#fff"/><rect x="94.25" y="295.25" width="5.6" height="16.5" fill="#f7973b"/></g><circle cx="91.5" cy="303.5" r="8.25" fill="none" stroke="#1b1b1b" stroke-width=".95"/>
<clipPath id="cDEU"><circle cx="349" cy="418" r="8.85"/></clipPath><g clip-path="url(#cDEU)"><rect x="340.15" y="409.15" width="17.7" height="5.9" fill="#1a1a1a"/><rect x="340.15" y="415.05" width="17.7" height="5.9" fill="#e0302a"/><rect x="340.15" y="420.95" width="17.7" height="6" fill="#fdc82f"/></g><circle cx="349" cy="418" r="8.85" fill="none" stroke="#1b1b1b" stroke-width=".95"/>
<clipPath id="cPOL"><circle cx="452.5" cy="419.5" r="8.25"/></clipPath><g clip-path="url(#cPOL)"><rect x="444.25" y="411.25" width="16.5" height="8.25" fill="#fff"/><rect x="444.25" y="419.5" width="16.5" height="8.25" fill="#dc2342"/></g><circle cx="452.5" cy="419.5" r="8.25" fill="none" stroke="#1b1b1b" stroke-width=".95"/>
<clipPath id="cBLR"><circle cx="555.5" cy="385" r="8.25"/></clipPath><g clip-path="url(#cBLR)"><rect x="547.25" y="376.75" width="16.5" height="10.89" fill="#d83a35"/><rect x="547.25" y="387.64" width="16.5" height="5.71" fill="#34b263"/><rect x="547.25" y="376.75" width="3.96" height="16.5" fill="#eb8f96"/><path d="M548.55 376.75 l1.6 2.1 l-1.6 2.1 l1.6 2.1 l-1.6 2.1 l1.6 2.1 l-1.6 2.1 l1.6 2.1 l-1.6 2.1" fill="none" stroke="#fbe9e6" stroke-width=".9"/></g><circle cx="555.5" cy="385" r="8.25" fill="none" stroke="#1b1b1b" stroke-width=".95"/>
<clipPath id="cFRA"><circle cx="225.5" cy="506.5" r="8.85"/></clipPath><g clip-path="url(#cFRA)"><rect x="216.65" y="497.65" width="5.9" height="17.7" fill="#2b5ea8"/><rect x="222.55" y="497.65" width="5.9" height="17.7" fill="#fff"/><rect x="228.45" y="497.65" width="6" height="17.7" fill="#e8432f"/></g><circle cx="225.5" cy="506.5" r="8.85" fill="none" stroke="#1b1b1b" stroke-width=".95"/>
<clipPath id="cITA"><circle cx="334" cy="559" r="8.25"/></clipPath><g clip-path="url(#cITA)"><rect x="325.75" y="550.75" width="5.5" height="16.5" fill="#2fa35a"/><rect x="331.25" y="550.75" width="5.5" height="16.5" fill="#fff"/><rect x="336.75" y="550.75" width="5.6" height="16.5" fill="#e0402f"/></g><circle cx="334" cy="559" r="8.25" fill="none" stroke="#fff" stroke-width=".95"/>
<clipPath id="cESP"><circle cx="115.8" cy="613.3" r="8.85"/></clipPath><g clip-path="url(#cESP)"><rect x="106.95" y="604.45" width="17.7" height="4.425" fill="#e0302a"/><rect x="106.95" y="608.875" width="17.7" height="8.85" fill="#fbd633"/><rect x="106.95" y="617.725" width="17.7" height="4.525" fill="#e0302a"/><ellipse cx="114.2" cy="613.4" rx="2.5" ry="2.9" fill="#c0532c"/><circle cx="114.2" cy="613.6" r="1" fill="#e9d9d0"/><rect x="111.4" y="615.7" width="5.6" height="1" fill="#a8582a"/></g><circle cx="115.8" cy="613.3" r="8.85" fill="none" stroke="#fff" stroke-width=".95"/>
<clipPath id="cROU"><circle cx="530.5" cy="545.5" r="8.25"/></clipPath><g clip-path="url(#cROU)"><rect x="522.25" y="537.25" width="5.5" height="16.5" fill="#2b5ea8"/><rect x="527.75" y="537.25" width="5.5" height="16.5" fill="#fdd23a"/><rect x="533.25" y="537.25" width="5.6" height="16.5" fill="#e0402f"/></g><circle cx="530.5" cy="545.5" r="8.25" fill="none" stroke="#1b1b1b" stroke-width=".95"/>
<clipPath id="cTUR"><circle cx="636" cy="672" r="8.85"/></clipPath><g clip-path="url(#cTUR)"><rect x="627.15" y="663.15" width="17.7" height="17.7" fill="#d3302a"/><circle cx="634.8" cy="672" r="4.1" fill="#fff"/><circle cx="635.8" cy="672" r="3.3" fill="#d3302a"/><path d="M638.9 669.4 l1.1 1.7 l2 -.5 l-1.3 1.6 l1.1 1.7 l-1.9 -.8 l-1.3 1.6 l.15 -2.05 l-1.9 -.75 l2 -.5z" fill="#fff"/></g><circle cx="636" cy="672" r="8.85" fill="none" stroke="#1b1b1b" stroke-width=".95"/>
<clipPath id="cGRC"><circle cx="475.8" cy="763.8" r="8.25"/></clipPath><g clip-path="url(#cGRC)"><rect x="467.55" y="755.55" width="16.5" height="16.5" fill="#fff"/><rect x="467.55" y="755.55" width="16.5" height="1.83333" fill="#2f7fc1"/><rect x="467.55" y="759.217" width="16.5" height="1.83333" fill="#2f7fc1"/><rect x="467.55" y="762.883" width="16.5" height="1.83333" fill="#2f7fc1"/><rect x="467.55" y="766.55" width="16.5" height="1.83333" fill="#2f7fc1"/><rect x="467.55" y="770.217" width="16.5" height="1.83333" fill="#2f7fc1"/><rect x="467.55" y="755.55" width="9.16667" height="9.16667" fill="#2f7fc1"/><rect x="471.217" y="755.55" width="1.83333" height="9.16667" fill="#fff"/><rect x="467.55" y="759.217" width="9.16667" height="1.83333" fill="#fff"/></g><circle cx="475.8" cy="763.8" r="8.25" fill="none" stroke="#1b1b1b" stroke-width=".95"/>
<text class="nm " x="359" y="264.4" textLength="39.7" lengthAdjust="spacingAndGlyphs">NORWAY</text>
<text class="vl " x="359" y="277.4" textLength="26.6" lengthAdjust="spacingAndGlyphs">30.1</text>
<text class="nm " x="396" y="320.6" textLength="38.8" lengthAdjust="spacingAndGlyphs">SWEDEN</text>
<text class="vl " x="396" y="334" textLength="17.1" lengthAdjust="spacingAndGlyphs">30</text>
<text class="nm " x="512" y="239.1" textLength="37.8" lengthAdjust="spacingAndGlyphs">FINLAND</text>
<text class="vl " x="512" y="252.5" textLength="29.9" lengthAdjust="spacingAndGlyphs">29.9</text>
<text class="nm " x="91.5" y="324.1" textLength="38.3" lengthAdjust="spacingAndGlyphs">IRELAND</text>
<text class="vl " x="91.5" y="337.5" textLength="26.6" lengthAdjust="spacingAndGlyphs">31.5</text>
<text class="nm " x="205.7" y="395.4" textLength="12.3" lengthAdjust="spacingAndGlyphs">UK</text>
<text class="vl " x="205.7" y="408.8" textLength="17.1" lengthAdjust="spacingAndGlyphs">29</text>
<text class="nm " x="52.6" y="453.3" textLength="38.3" lengthAdjust="spacingAndGlyphs">ICELAND</text>
<text class="vl " x="52.6" y="466.4" textLength="29.9" lengthAdjust="spacingAndGlyphs">28.8</text>
<text class="nm  b" x="226" y="528.6" textLength="40.6" lengthAdjust="spacingAndGlyphs">FRANCE</text>
<text class="vl  b" x="226" y="543.2" textLength="30.1" lengthAdjust="spacingAndGlyphs">29.1</text>
<text class="nm  b" x="349" y="439.6" textLength="49.9" lengthAdjust="spacingAndGlyphs">GERMANY</text>
<text class="vl  b" x="349" y="455.7" textLength="33.9" lengthAdjust="spacingAndGlyphs">29.9</text>
<text class="nm " x="392" y="480.6" textLength="38.8" lengthAdjust="spacingAndGlyphs">CZECHIA</text>
<text class="vl " x="392" y="494.5" textLength="29.9" lengthAdjust="spacingAndGlyphs">28.8</text>
<text class="nm " x="391" y="524.1" textLength="38.3" lengthAdjust="spacingAndGlyphs">AUSTRIA</text>
<text class="vl " x="391" y="537" textLength="29.9" lengthAdjust="spacingAndGlyphs">29.9</text>
<text class="nm " x="452.5" y="439.1" textLength="36.3" lengthAdjust="spacingAndGlyphs">POLAND</text>
<text class="vl " x="452.5" y="452.5" textLength="29.9" lengthAdjust="spacingAndGlyphs">28.2</text>
<text class="nm " x="447.5" y="500.6" textLength="17.7" lengthAdjust="spacingAndGlyphs">SVK</text>
<text class="vl " x="447.5" y="514" textLength="29.9" lengthAdjust="spacingAndGlyphs">27.3</text>
<text class="nm " x="450.5" y="537.1" textLength="44.1" lengthAdjust="spacingAndGlyphs">HUNGARY</text>
<text class="vl " x="450.5" y="551" textLength="29.9" lengthAdjust="spacingAndGlyphs">28.7</text>
<text class="nm " x="530.5" y="565.1" textLength="41.2" lengthAdjust="spacingAndGlyphs">ROMANIA</text>
<text class="vl " x="530.5" y="578.3" textLength="17.1" lengthAdjust="spacingAndGlyphs">27</text>
<text class="nm " x="537.5" y="619.9" textLength="44.7" lengthAdjust="spacingAndGlyphs">BULGARIA</text>
<text class="vl " x="537.5" y="633" textLength="29.9" lengthAdjust="spacingAndGlyphs">26.6</text>
<text class="nm " x="474" y="596.1" textLength="32.4" lengthAdjust="spacingAndGlyphs">SERBIA</text>
<text class="vl " x="474" y="610" textLength="29.9" lengthAdjust="spacingAndGlyphs">28.3</text>
<text class="nm " x="433" y="592.6" textLength="14.7" lengthAdjust="spacingAndGlyphs">BIH</text>
<text class="vl " x="433" y="606" textLength="26.6" lengthAdjust="spacingAndGlyphs">28.1</text>
<text class="nm " x="487" y="643.1" textLength="19.6" lengthAdjust="spacingAndGlyphs">MAC</text>
<text class="vl " x="487" y="656" textLength="29.9" lengthAdjust="spacingAndGlyphs">27.4</text>
<text class="nm " x="508" y="367.1" textLength="16.7" lengthAdjust="spacingAndGlyphs">LTU</text>
<text class="vl " x="508" y="380.5" textLength="29.9" lengthAdjust="spacingAndGlyphs">28.2</text>
<text class="nm " x="527" y="337.1" textLength="16.7" lengthAdjust="spacingAndGlyphs">LVA</text>
<text class="vl " x="527" y="350" textLength="29.9" lengthAdjust="spacingAndGlyphs">27.6</text>
<text class="nm " x="519" y="302.1" textLength="17.2" lengthAdjust="spacingAndGlyphs">EST</text>
<text class="vl " x="519" y="315" textLength="29.9" lengthAdjust="spacingAndGlyphs">28.6</text>
<text class="nm " x="556" y="405.1" textLength="41.2" lengthAdjust="spacingAndGlyphs">BELARUS</text>
<text class="vl " x="556" y="418" textLength="29.9" lengthAdjust="spacingAndGlyphs">26.9</text>
<text class="nm  b" x="637" y="694.1" textLength="42.8" lengthAdjust="spacingAndGlyphs">TURKIYE</text>
<text class="vl  b" x="637" y="709.7" textLength="33.9" lengthAdjust="spacingAndGlyphs">26.8</text>
<text class="nm w b" x="116" y="634.6" textLength="29.6" lengthAdjust="spacingAndGlyphs">SPAIN</text>
<text class="vl w b" x="116" y="649.7" textLength="30.1" lengthAdjust="spacingAndGlyphs">31.6</text>
<text class="nm w" x="334.8" y="578.6" textLength="24.5" lengthAdjust="spacingAndGlyphs">ITALY</text>
<text class="vl w" x="334.8" y="592" textLength="26.6" lengthAdjust="spacingAndGlyphs">31.7</text>
<text class="nm w" x="299" y="526.6" textLength="18.6" lengthAdjust="spacingAndGlyphs">CHE</text>
<text class="vl w" x="299" y="541" textLength="26.6" lengthAdjust="spacingAndGlyphs">31.2</text>
<text class="nm " x="476" y="783" textLength="37.3" lengthAdjust="spacingAndGlyphs">GREECE</text>
<text class="vl " x="476" y="796.6" textLength="13.8" lengthAdjust="spacingAndGlyphs">31</text>
<text class="nm " x="444.5" y="707.1" textLength="37.3" lengthAdjust="spacingAndGlyphs">ALBANIA</text>
<text class="vl " x="444.5" y="720" textLength="29.9" lengthAdjust="spacingAndGlyphs">26.6</text>
<text class="nm " x="399.7" y="621.4" textLength="18.6" lengthAdjust="spacingAndGlyphs">HRV</text>
<text class="vl " x="400" y="634.6" textLength="29.9" lengthAdjust="spacingAndGlyphs">29.2</text>
<text class="nm " x="377" y="588.5" textLength="18.2" lengthAdjust="spacingAndGlyphs">SVN</text>
<text class="vl " x="377" y="601.9" textLength="17.1" lengthAdjust="spacingAndGlyphs">29</text>
<text class="nm " x="622" y="587.1" textLength="44.2" lengthAdjust="spacingAndGlyphs">MOLDOVA</text>
<text class="vl " x="622" y="600" textLength="26.6" lengthAdjust="spacingAndGlyphs">25.1</text>
<text class="nm " x="631.5" y="759.1" textLength="36.8" lengthAdjust="spacingAndGlyphs">CYPRUS</text>
<text class="vl " x="634" y="773" textLength="29.9" lengthAdjust="spacingAndGlyphs">29.8</text>
<text class="nm " x="48" y="518.6" textLength="48.6" lengthAdjust="spacingAndGlyphs" style="text-anchor:start">PORTUGAL</text>
<text class="vl " x="48" y="532" textLength="29.9" lengthAdjust="spacingAndGlyphs" style="text-anchor:start">30.4</text>
<text class="nm " x="314.3" y="319.7" textLength="44.1" lengthAdjust="spacingAndGlyphs" style="text-anchor:end">DENMARK</text>
<text class="vl " x="314.3" y="332.5" textLength="17.1" lengthAdjust="spacingAndGlyphs" style="text-anchor:end">30</text>
<text class="nm " x="310.3" y="348.4" textLength="65.7" lengthAdjust="spacingAndGlyphs" style="text-anchor:end">NETHERLANDS</text>
<text class="vl " x="310.3" y="361.2" textLength="29.9" lengthAdjust="spacingAndGlyphs" style="text-anchor:end">30.3</text>
<text class="nm " x="252" y="369.9" textLength="39.7" lengthAdjust="spacingAndGlyphs">BELGIUM</text>
<text class="vl " x="252" y="382.9" textLength="29.9" lengthAdjust="spacingAndGlyphs">29.5</text>
<text class="nm " x="303.4" y="467.8" textLength="17.2" lengthAdjust="spacingAndGlyphs" style="text-anchor:start">LUX</text>
<text class="vl " x="303.6" y="480.7" textLength="26.6" lengthAdjust="spacingAndGlyphs" style="text-anchor:start">31.2</text>
<text class="nm g m" x="61" y="720.4">SMR</text>
<text class="vl g m" x="61" y="733.4" textLength="27.9" lengthAdjust="spacingAndGlyphs">31.5</text>
<text class="nm g m" x="119" y="720.4">AND</text>
<text class="vl g m" x="119" y="733.4" textLength="31.4" lengthAdjust="spacingAndGlyphs">32.9</text>
<text class="nm g m" x="177.5" y="720.4">MLT</text>
<text class="vl g m" x="177.5" y="733.4" textLength="31.4" lengthAdjust="spacingAndGlyphs">29.8</text>
<text class="nm g m" x="235.7" y="720.4">MCO</text>
<text class="vl g m" x="235.7" y="733.4" textLength="31.4" lengthAdjust="spacingAndGlyphs">32.5</text>
<text class="nm g m" x="288.3" y="744.9">LIE</text><text class="nm g m" x="336.2" y="744.9">VAT</text>

<g class="ttl"><text x="40.3" y="76" textLength="294" lengthAdjust="spacingAndGlyphs">When does a</text><text x="41" y="113.7" textLength="295.5" lengthAdjust="spacingAndGlyphs">woman have</text><text x="39.6" y="151.2" textLength="330" lengthAdjust="spacingAndGlyphs">her first child?</text></g>
<text class="sub" x="36.4" y="187.2" textLength="163.5" lengthAdjust="spacingAndGlyphs">Mean age of women</text><text class="sub" x="36.6" y="203.4" textLength="158.5" lengthAdjust="spacingAndGlyphs">at birth of first child</text>
<rect x="37.8" y="213.8" width="160.4" height="20.4" rx="10.2" fill="url(#lgd)" stroke="#1b1b1b" stroke-width="2"/>
<path d="M118.2 215 V233.5" stroke="#fff" stroke-width=".8" stroke-dasharray="1 1" opacity=".8"/>
<text class="lg" x="37.2" y="254.3" textLength="18.4" lengthAdjust="spacingAndGlyphs">25</text><text class="lg" x="118.2" y="254.3" text-anchor="middle" textLength="18" lengthAdjust="spacingAndGlyphs">29</text><text class="lg" x="197.6" y="254.3" text-anchor="end" textLength="18.6" lengthAdjust="spacingAndGlyphs">33</text><text class="lg" x="244.3" y="254.3" text-anchor="middle" textLength="29.4" lengthAdjust="spacingAndGlyphs">N/D</text>
<circle cx="244.3" cy="224" r="10.8" fill="url(#ht4)" stroke="#1b1b1b" stroke-width="1.9"/>
<text class="ft" x="35.8" y="809.5" textLength="291.5" lengthAdjust="spacingAndGlyphs">Data for the UK for 2018, all other countries for 2021 or 2022.</text>
<text class="ft" x="36.2" y="820.5" textLength="276.5" lengthAdjust="spacingAndGlyphs">Source: United Nations Economic Commission for Europe</text>
<text class="ft" x="680" y="809.5" text-anchor="end" style="font-size:10px" textLength="134.5" lengthAdjust="spacingAndGlyphs">©2024 ARCIOM ANTANOVIČ</text>
<text class="ft" x="680" y="820.5" text-anchor="end" style="font-size:10px" textLength="131.5" lengthAdjust="spacingAndGlyphs">REDDIT: U/THEWORLDMAPS</text>

</svg></body></html>
